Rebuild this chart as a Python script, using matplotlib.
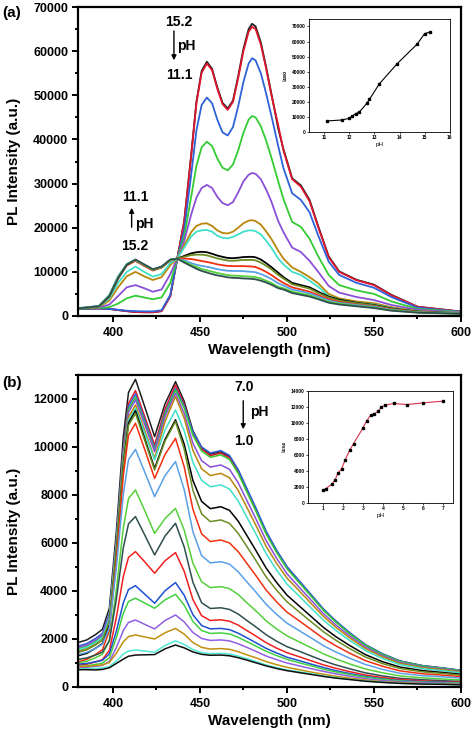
import matplotlib
matplotlib.use("Agg")
import matplotlib.pyplot as plt
from matplotlib.ticker import MultipleLocator

plt.rcParams["font.family"] = ["Liberation Sans", "DejaVu Sans"]
plt.rcParams["font.weight"] = "bold"

# ---- panel (a): pH 15.2 -> 11.1 ----
wl_a = [380, 392, 398, 403, 408, 413, 418, 423, 428, 433, 437, 441,
        445, 448, 451, 454, 457, 460, 463, 466, 469, 472, 475, 478, 480, 482, 485, 488, 491, 495,
        498, 503, 508, 513, 518, 524, 530, 540, 550, 560, 575, 600]

a_152 = [1600, 1700, 1600, 1350, 1100, 900, 850, 850, 1100, 4500, 13000, 21500,
         36500, 48500, 55500, 57600, 56000, 51800, 48300, 47000, 48800, 54300, 60500, 65000, 66200, 65600, 62000, 56500, 50500, 42500,
         37800, 31200, 29600, 26300, 20300, 13500, 10100, 8200, 7100, 4800, 2100, 1000]
a_1505 = [1600, 1700, 1600, 1350, 1100, 900, 850, 850, 1100, 4500, 13000, 21300,
          36200, 48200, 55100, 57200, 55700, 51500, 48000, 46700, 48500, 53900, 60000, 64400, 65500, 65000, 61500, 56200, 50200, 43200,
          37500, 31000, 29300, 26000, 20100, 13300, 10000, 8100, 7000, 4700, 2100, 1000]
a_1475 = [1600, 1700, 1600, 1400, 1200, 1100, 1050, 1050, 1300, 4800, 13000, 19500,
          32000, 42000, 47800, 49500, 48200, 44500, 41600, 40900, 42800, 47500, 53000, 57200, 58400, 57900, 55000, 50500, 45500, 38500,
          33500, 27800, 26300, 23500, 18200, 12300, 9300, 7500, 6400, 4300, 1900, 950]
a_140 = [1700, 1800, 2000, 2800, 4000, 4600, 4200, 3800, 4200, 7500, 13000, 18000,
         27000, 34000, 38200, 39500, 38500, 35700, 33600, 33000, 34300, 37500, 41500, 44500, 45300, 45000, 43000, 39800, 36000, 30500,
         26500, 21300, 20200, 17500, 13500, 9300, 7000, 5800, 5000, 3300, 1600, 900]
a_1325 = [1700, 1900, 2600, 4500, 6500, 7000, 6300, 5500, 6000, 9500, 13000, 17000,
          23000, 26800, 29000, 29700, 29000, 27000, 25600, 25100, 25800, 28000, 30500, 32000, 32400, 32200, 31000, 28700, 26000, 21500,
          19000, 15500, 14500, 12500, 10000, 6800, 5300, 4300, 3600, 2500, 1400, 800]
a_1285 = [1700, 2000, 3500, 6500, 9000, 10000, 9000, 8150, 8800, 11500, 13000, 16000,
          19000, 20400, 20900, 21000, 20400, 19400, 18800, 18700, 19100, 20000, 21000, 21600, 21700, 21500, 20700, 19200, 17500, 14800,
          13000, 11000, 10000, 8800, 7400, 5000, 4000, 3300, 2900, 2000, 1100, 700]
a_1275 = [1700, 2100, 4000, 7500, 10000, 11200, 10000, 8900, 9500, 12000, 13000, 15500,
          18000, 19100, 19400, 19500, 19100, 18200, 17700, 17600, 17900, 18500, 19100, 19400, 19400, 19200, 18500, 17100, 15500, 13000,
          11700, 10000, 9300, 8000, 6600, 4500, 3700, 3000, 2600, 1800, 1000, 700]
a_1245 = [1700, 2200, 4500, 8500, 11500, 12600, 11400, 10400, 11000, 12600, 13000, 13600,
          14200, 14450, 14550, 14450, 14100, 13700, 13400, 13150, 13100, 13200, 13350, 13400, 13400, 13300, 12800, 12000, 11100, 9800,
          8800, 7500, 7000, 6500, 5500, 4400, 3700, 3000, 2500, 1700, 1000, 600]
a_123 = [1700, 2200, 4600, 8700, 11600, 12600, 11500, 10400, 11100, 12700, 13000, 13400,
         13800, 13900, 13900, 13750, 13400, 13050, 12800, 12550, 12500, 12600, 12700, 12700, 12700, 12600, 12100, 11400, 10600, 9300,
         8500, 7200, 6700, 6200, 5200, 4200, 3500, 2900, 2400, 1600, 950, 600]
a_1215 = [1700, 2200, 4500, 8500, 11500, 12500, 11400, 10300, 11000, 12600, 13000, 13000,
          12900, 12700, 12450, 12250, 12000, 11700, 11500, 11350, 11300, 11300, 11300, 11250, 11200, 11100, 10600, 10000, 9300, 8200,
          7500, 6500, 6000, 5500, 4700, 3800, 3200, 2600, 2200, 1500, 900, 550]
a_120 = [1800, 2300, 4800, 9000, 11800, 12700, 11600, 10500, 11200, 12700, 13000, 12600,
         12000, 11600, 11350, 11150, 10900, 10600, 10400, 10250, 10200, 10200, 10150, 10050, 10000, 9900, 9500, 9000, 8400, 7400,
         6900, 6000, 5600, 5100, 4400, 3500, 3000, 2500, 2100, 1400, 850, 550]
a_1175 = [1700, 2200, 4600, 8800, 11700, 12700, 11600, 10500, 11100, 12700, 13000, 12300,
          11600, 11100, 10650, 10350, 10050, 9750, 9500, 9250, 9150, 9100, 9000, 8950, 8900, 8800, 8500, 8000, 7500, 6600,
          6300, 5500, 5100, 4700, 4000, 3200, 2800, 2300, 1900, 1300, 800, 500]
a_111 = [1700, 2200, 4500, 8600, 11600, 12800, 11700, 10600, 11200, 12800, 13000, 12100,
         11300, 10700, 10200, 9850, 9500, 9200, 9000, 8750, 8650, 8600, 8500, 8450, 8400, 8300, 8000, 7600, 7100, 6300,
         6000, 5200, 4800, 4400, 3800, 3000, 2600, 2200, 1800, 1200, 750, 500]

ph_a = [11.1, 11.7, 12.0, 12.1, 12.25, 12.4, 12.7, 12.8, 13.2, 13.9, 14.7, 15.0, 15.2]
i480 = [7300, 7950, 9050, 10400, 12100, 13200, 19000, 21600, 32000, 45200, 58300, 65300, 66200]

# ---- panel (b): pH 7.0 -> 1.0 ----
wl_b = [380, 385, 390, 394, 398, 402, 406, 409, 413, 418, 424, 430, 436, 441, 446, 451, 456, 462,
        467, 472, 477, 482, 488, 494, 500, 507, 514, 521, 528, 536, 545, 555, 565, 578, 590, 600]

b_70 = [1850, 1960, 2180, 2400, 3280, 6460, 10410, 12270, 12820, 11745, 10430, 11800, 12720, 11900, 10680, 9975, 9700, 9800,
        9600, 9020, 8230, 7450, 6470, 5680, 5000, 4410, 3820, 3230, 2740, 2250, 1760, 1370, 1080, 880, 780, 690]
b_60 = [1450, 1560, 1780, 2000, 2870, 6030, 9950, 11810, 12350, 11330, 10080, 11580, 12580, 11780, 10590, 9910, 9640, 9740,
        9550, 8960, 8180, 7400, 6430, 5650, 4970, 4380, 3800, 3210, 2730, 2240, 1750, 1360, 1070, 880, 780, 680]
b_52 = [1700, 1810, 2020, 2230, 3070, 6110, 9900, 11680, 12210, 11190, 9940, 11440, 12440, 11710, 10630, 10000, 9750, 9850,
        9650, 9060, 8270, 7490, 6500, 5710, 5020, 4430, 3840, 3250, 2760, 2270, 1770, 1380, 1080, 890, 790, 690]
b_45 = [1600, 1700, 1910, 2120, 2960, 6000, 9770, 11550, 12070, 11080, 9870, 11370, 12375, 11620, 10480, 9830, 9570, 9670,
        9480, 8900, 8120, 7350, 6380, 5610, 4930, 4350, 3770, 3190, 2710, 2220, 1740, 1350, 1060, 870, 770, 680]
b_41 = [1650, 1750, 1960, 2170, 2990, 5980, 9690, 11440, 11960, 10990, 9800, 11260, 12240, 11400, 10150, 9430, 9160, 9250,
        9070, 8510, 7770, 7030, 6110, 5370, 4720, 4160, 3610, 3050, 2590, 2130, 1670, 1300, 1020, 830, 740, 650]
b_39 = [1500, 1600, 1810, 2010, 2830, 5810, 9500, 11240, 11750, 10750, 9530, 11070, 12100, 11200, 9860, 9090, 8810, 8900,
        8720, 8190, 7480, 6760, 5870, 5160, 4540, 4010, 3470, 2940, 2490, 2050, 1600, 1250, 980, 800, 710, 620]
b_376 = [1550, 1650, 1850, 2050, 2860, 5780, 9400, 11110, 11610, 10640, 9460, 10710, 11540, 10670, 9360, 8610, 8340, 8420,
         8250, 7750, 7070, 6400, 5560, 4880, 4290, 3790, 3280, 2780, 2360, 1940, 1520, 1180, 930, 760, 670, 590]
b_356 = [1300, 1400, 1610, 1810, 2630, 5590, 9260, 11000, 11510, 10430, 9110, 10320, 11130, 10120, 8600, 7730, 7430, 7510,
         7360, 6910, 6310, 5710, 4960, 4360, 3830, 3380, 2930, 2480, 2100, 1730, 1350, 1050, 830, 680, 600, 530]
b_338 = [1450, 1550, 1750, 1950, 2740, 5630, 9210, 10900, 11400, 10340, 9040, 10250, 11060, 9910, 8190, 7210, 6890, 6960,
         6820, 6400, 5850, 5290, 4590, 4040, 3550, 3130, 2710, 2300, 1950, 1600, 1250, 970, 770, 630, 560, 490]
b_318 = [1050, 1150, 1350, 1550, 2340, 5220, 8800, 10490, 10990, 9960, 8690, 9690, 10360, 9170, 7400, 6380, 6060, 6125,
         6000, 5640, 5150, 4660, 4040, 3550, 3120, 2760, 2390, 2020, 1720, 1410, 1100, 860, 670, 550, 490, 430]
b_298 = [1350, 1440, 1610, 1780, 2460, 4940, 8020, 9470, 9900, 9010, 7930, 8810, 9390, 8220, 6470, 5470, 5170, 5220,
         5120, 4800, 4380, 3970, 3450, 3030, 2660, 2350, 2040, 1720, 1460, 1200, 940, 730, 570, 470, 420, 370]
b_252 = [1000, 1070, 1220, 1360, 1940, 4030, 6620, 7850, 8210, 7400, 6400, 7020, 7440, 6530, 5160, 4380, 4140, 4180,
         4100, 3850, 3510, 3180, 2760, 2420, 2130, 1880, 1630, 1380, 1170, 960, 750, 590, 460, 380, 330, 290]
b_234 = [1150, 1210, 1330, 1450, 1920, 3650, 5790, 6800, 7100, 6380, 5500, 6290, 6820, 5830, 4360, 3510, 3270, 3300,
         3230, 3040, 2770, 2510, 2180, 1910, 1680, 1490, 1290, 1090, 920, 760, 590, 460, 360, 300, 260, 230]
b_21 = [900, 950, 1040, 1140, 1520, 2890, 4600, 5400, 5640, 5240, 4740, 5260, 5600, 4820, 3640, 2970, 2770, 2800,
        2740, 2580, 2350, 2130, 1850, 1620, 1430, 1260, 1090, 920, 780, 640, 500, 390, 310, 250, 220, 200]
b_192 = [950, 980, 1050, 1110, 1380, 2320, 3500, 4060, 4220, 3890, 3490, 4010, 4350, 3820, 3010, 2560, 2420, 2440,
         2390, 2240, 2050, 1850, 1610, 1420, 1240, 1100, 950, 810, 680, 560, 440, 340, 270, 220, 200, 170]
b_175 = [850, 880, 940, 990, 1220, 2050, 3070, 3560, 3700, 3510, 3280, 3630, 3860, 3410, 2730, 2350, 2230, 2250,
         2210, 2070, 1890, 1710, 1490, 1310, 1150, 1010, 880, 740, 630, 520, 410, 320, 250, 200, 180, 160]
b_159 = [800, 820, 860, 900, 1060, 1640, 2350, 2690, 2790, 2620, 2420, 2770, 3000, 2710, 2270, 2020, 1940, 1960,
         1920, 1800, 1650, 1490, 1290, 1140, 1000, 880, 760, 650, 550, 450, 350, 270, 220, 180, 160, 140]
b_142 = [850, 860, 890, 920, 1020, 1400, 1880, 2100, 2170, 2090, 2000, 2260, 2440, 2200, 1850, 1650, 1580, 1600,
         1570, 1470, 1340, 1220, 1060, 930, 820, 720, 620, 530, 450, 370, 290, 220, 180, 140, 130, 110]
b_113 = [750, 760, 770, 790, 850, 1080, 1370, 1500, 1540, 1500, 1450, 1730, 1920, 1770, 1560, 1430, 1390, 1400,
         1370, 1290, 1180, 1060, 920, 810, 710, 630, 550, 460, 390, 320, 250, 200, 150, 130, 110, 100]
b_10 = [720, 720, 710, 730, 800, 980, 1160, 1280, 1330, 1340, 1350, 1590, 1750, 1630, 1460, 1360, 1320, 1330,
        1300, 1220, 1120, 1010, 880, 770, 680, 600, 520, 440, 370, 310, 240, 190, 150, 120, 110, 90]

ph_b = [1.0, 1.13, 1.42, 1.59, 1.75, 1.92, 2.1, 2.34, 2.52, 2.98, 3.18, 3.38, 3.56, 3.76, 3.9, 4.1, 4.52, 5.19, 5.99, 7.0]
i434 = [1620, 1780, 2320, 2860, 3770, 4230, 5380, 6630, 7410, 9320, 10270, 10980, 11140, 11470, 11970, 12220, 12430, 12300, 12510, 12720]

spectra_a = [a_152, a_1505, a_1475, a_140, a_1325, a_1285, a_1275, a_1245, a_123, a_1215, a_120, a_1175, a_111]
spectra_b = [b_70, b_60, b_52, b_45, b_41, b_39, b_376, b_356, b_338, b_318, b_298, b_252, b_234, b_21, b_192,
             b_175, b_159, b_142, b_113, b_10]

# origin-like color cycle
colors = ["#1e1e1e", "#e0162e", "#2f62d8", "#33cc33", "#8a50d8", "#b8860b", "#40e0c8", "#000000", "#6b8e23",
          "#f03010", "#5aa0e6", "#55d03a", "#2f4f4f", "#f02020", "#2050d0", "#40d040", "#9060e0", "#c09010",
          "#50e8d0", "#101010"]

fig = plt.figure(figsize=(4.74, 7.39), dpi=100)
ax1 = fig.add_axes([0.1646, 0.5724, 0.808, 0.4181])
ax2 = fig.add_axes([0.1646, 0.0704, 0.808, 0.4222])


def style_main(ax, ymax, ymajor, yminor):
    ax.set_xlim(380, 600)
    ax.set_ylim(0, ymax)
    ax.xaxis.set_major_locator(MultipleLocator(50))
    ax.xaxis.set_minor_locator(MultipleLocator(25))
    ax.yaxis.set_major_locator(MultipleLocator(ymajor))
    ax.yaxis.set_minor_locator(MultipleLocator(yminor))
    ax.tick_params(which="both", direction="out", width=1.4, labelsize=9, pad=3)
    ax.tick_params(which="major", length=4)
    ax.tick_params(which="minor", length=2.5)
    ax.tick_params(axis="x", pad=4)
    for s in ax.spines.values():
        s.set_linewidth(1.6)
    for lab in ax.get_xticklabels() + ax.get_yticklabels():
        lab.set_fontweight("bold")
    ax.set_xlabel("Wavelength (nm)", fontsize=11, fontweight="bold", labelpad=3)
    ax.set_ylabel("PL Intensity (a.u.)", fontsize=11, fontweight="bold", labelpad=9)


for i, s in enumerate(spectra_a):
    ax1.plot(wl_a, s, color=colors[i], lw=1.3)
style_main(ax1, 70000, 10000, 5000)

for i, s in enumerate(spectra_b):
    ax2.plot(wl_b, s, color=colors[i], lw=1.1)
style_main(ax2, 13000, 2000, 1000)

# pH annotations
tk = dict(fontsize=10, fontweight="bold", ha="center", va="center")
ax1.text(438.0, 66600, "15.2", **tk)
ax1.text(438.0, 54600, "11.1", **tk)
ax1.annotate("", xy=(435.1, 57300), xytext=(435.1, 65200),
             arrowprops=dict(arrowstyle="-|>", color="black", lw=1.0, mutation_scale=7))
ax1.text(436.9, 61150, "pH", fontsize=10, fontweight="bold", ha="left", va="center")

ax1.text(412.7, 26950, "11.1", **tk)
ax1.text(412.7, 15860, "15.2", **tk)
ax1.annotate("", xy=(410.8, 25140), xytext=(410.8, 19480),
             arrowprops=dict(arrowstyle="-|>", color="black", lw=1.0, mutation_scale=7))
ax1.text(412.5, 20840, "pH", fontsize=10, fontweight="bold", ha="left", va="center")

ax2.text(475.3, 12500, "7.0", **tk)
ax2.text(475.3, 10250, "1.0", **tk)
ax2.annotate("", xy=(474.9, 10625), xytext=(474.9, 12040),
             arrowprops=dict(arrowstyle="-|>", color="black", lw=1.0, mutation_scale=7))
ax2.text(478.8, 11460, "pH", fontsize=10, fontweight="bold", ha="left", va="center")

fig.text(0.004, 0.982, "(a)", fontsize=11, fontweight="bold", ha="left", va="center")
fig.text(0.004, 0.482, "(b)", fontsize=11, fontweight="bold", ha="left", va="center")

# insets
ins1 = fig.add_axes([0.652, 0.8214, 0.297, 0.153])
ins1.plot(ph_a, i480, color="black", lw=0.8, marker="s", ms=1.8)
ins1.set_xlim(10.4, 16)
ins1.set_ylim(0, 75000)
ins1.xaxis.set_major_locator(MultipleLocator(1))
ins1.yaxis.set_major_locator(MultipleLocator(10000))
ins1.set_xlabel("pH", fontsize=4.5, labelpad=1)
ins1.set_ylabel("I$_{480}$", fontsize=4.5, labelpad=1)

ins2 = fig.add_axes([0.650, 0.3194, 0.306, 0.1516])
ins2.plot(ph_b, i434, color="#d8304a", lw=0.8, marker="s", ms=1.8, mfc="black", mec="black")
ins2.set_xlim(0.25, 7.5)
ins2.set_ylim(0, 14000)
ins2.xaxis.set_major_locator(MultipleLocator(1))
ins2.yaxis.set_major_locator(MultipleLocator(2000))
ins2.set_xlabel("pH", fontsize=4.5, labelpad=1)
ins2.set_ylabel("I$_{434}$", fontsize=4.5, labelpad=1)

for ins in (ins1, ins2):
    ins.tick_params(labelsize=3.5, length=1.5, width=0.5, pad=1)
    for s in ins.spines.values():
        s.set_linewidth(0.6)

fig.savefig("out.png", dpi=100)
